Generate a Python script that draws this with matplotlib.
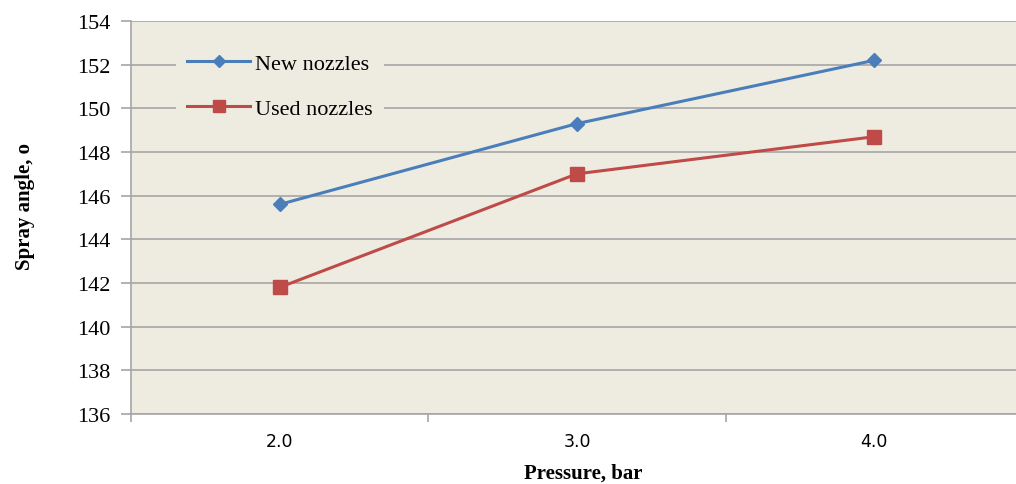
import matplotlib
matplotlib.use("Agg")
import matplotlib.pyplot as plt
import numpy as np

# pressure levels and measured spray angles
pressures = ["2.0", "3.0", "4.0"]
new_nozzles = [145.6, 149.3, 152.2]
used_nozzles = [141.8, 147.0, 148.7]
y_ticks = list(range(136, 155, 2))

serif = ["Liberation Serif", "DejaVu Serif"]
bg = "#EEECE1"
grid_col = "#A6A6A6"

fig = plt.figure(figsize=(10.16, 4.85), dpi=100)
ax = fig.add_axes([131 / 1016, 70 / 485, 892 / 1016, 393 / 485])
ax.set_facecolor(bg)

x = np.arange(len(pressures))
ax.plot(x, new_nozzles, color="#4A7EBB", lw=2.2, marker="D", ms=7,
        label="New nozzles", zorder=3)
ax.plot(x, used_nozzles, color="#BE4B48", lw=2.2, marker="s", ms=10,
        label="Used nozzles", zorder=3)

ax.set_xlim(-0.5, len(pressures) - 0.5)
ax.set_ylim(136, 154)
ax.set_yticks(y_ticks)
ax.set_yticklabels([str(v) for v in y_ticks])
ax.yaxis.grid(True, color=grid_col, lw=1.2)
ax.set_axisbelow(True)

ax.set_xticks(x)
ax.set_xticklabels(pressures)
ax.set_xticks(np.arange(-0.5, len(pressures)), minor=True)
ax.tick_params(axis="x", which="major", length=0, pad=13,
               labelsize=12.5, labelfontfamily="DejaVu Sans")
ax.tick_params(axis="x", which="minor", length=6, color=grid_col, width=1.2)
ax.tick_params(axis="y", length=7, color=grid_col, width=1.2, pad=8,
               labelsize=16, labelfontfamily="Liberation Serif")

for side in ["top", "right"]:
    ax.spines[side].set_visible(False)
for side in ["left", "bottom"]:
    ax.spines[side].set_color(grid_col)
    ax.spines[side].set_linewidth(1.2)

ax.set_xlabel("Pressure, bar", fontfamily=serif, fontweight="bold",
              fontsize=15, va="center")
ax.xaxis.set_label_coords(0.507, -0.148)
ax.set_ylabel("Spray angle, o", fontfamily=serif, fontweight="bold",
              fontsize=15)
ax.yaxis.set_label_coords(-0.108, 0.53)

leg = ax.legend(loc="upper left", bbox_to_anchor=(0.038, 0.975),
                prop={"family": serif, "size": 16}, frameon=True,
                facecolor=bg, edgecolor="none", framealpha=1,
                handlelength=2.85, handletextpad=0.22, labelspacing=1.1,
                borderpad=0.5, fancybox=False)
leg.legend_handles[0].set_markersize(6)
leg.legend_handles[1].set_markersize(9)

fig.savefig("out.png", dpi=100, facecolor="white")
